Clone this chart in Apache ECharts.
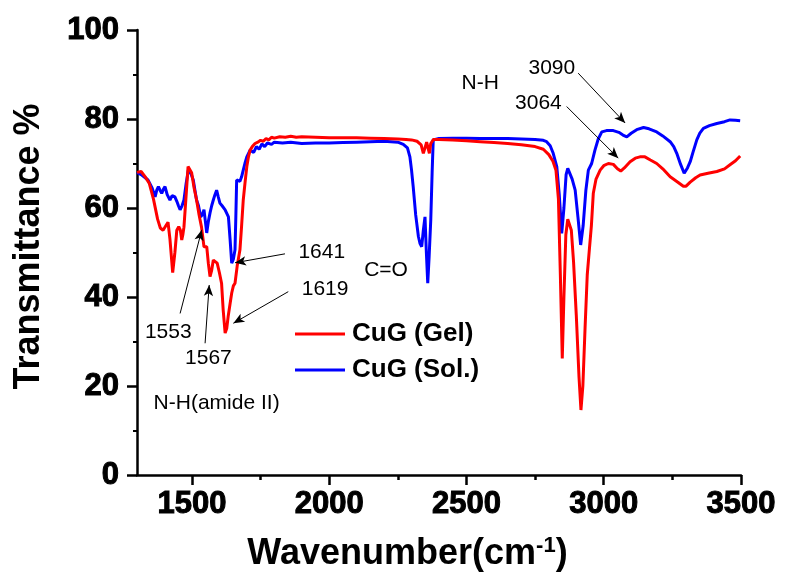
<!DOCTYPE html>
<html>
<head>
<meta charset="utf-8">
<script src="https://cdn.jsdelivr.net/npm/echarts@6/dist/echarts.min.js"></script>
<style>
  html, body { margin: 0; padding: 0; background: #fff; }
  #chart { width: 785px; height: 579px; }
</style>
</head>
<body>
<div id="chart"></div>
<script>
// FTIR spectra of the CuG gel and sol
const gelWavenumber = [1300,1315,1330,1345,1360,1375,1385,1395,1405,1413,1420,1430,1438,1445,1452,1458,1463,1467,1471,1478,1486,1492,1499,1508,1517,1526,1535,1544,1549,1554,1560,1566,1572,1578,1585,1592,1600,1608,1614,1621,1627,1632,1639,1645,1651,1657,1665,1675,1681,1687,1694,1700,1706,1712,1720,1730,1740,1750,1760,1770,1780,1790,1800,1820,1840,1860,1880,1900,1950,2000,2050,2100,2150,2200,2250,2280,2300,2320,2335,2343,2349,2355,2360,2365,2370,2380,2400,2450,2500,2550,2600,2650,2700,2750,2780,2800,2815,2826,2835,2842,2849,2855,2862,2869,2875,2882,2890,2900,2910,2917,2924,2932,2940,2948,2955,2962,2972,2987,3000,3017,3035,3050,3062,3075,3096,3115,3132,3150,3170,3193,3215,3242,3270,3290,3300,3315,3335,3351,3380,3412,3440,3460,3480,3497];
const gelTransmittance = [68,68.2,67,65.5,62,57.5,55.5,55,56,56.8,53,45.5,50,55,55.8,55,52.8,54,55.7,62,69.3,69,67.9,64.5,61.8,58.5,55.7,51.3,51.5,51.3,47.5,44.6,46,48.3,48.7,47.6,45.5,43.1,37,31.9,33,35.6,38.5,40.9,42.5,43.1,47,50.6,56,61.8,66,69.3,71.5,73,73.8,74.5,74.8,75.2,75.0,75.6,75.3,75.9,75.7,76.0,75.9,76.1,75.9,76.0,75.9,75.8,75.8,75.8,75.7,75.6,75.5,75.4,75.3,75.0,74.2,72.3,73.5,74.8,73.5,72.3,74.5,75.4,75.4,75.3,75.1,74.9,74.7,74.5,74.2,73.8,73.2,72,70.5,68.5,62,45,26.2,40,54,57.5,57.7,55,48,36,22,14.6,20,33,45,50.9,56,63.3,66.5,68.5,69.5,70.0,69.8,68.8,68.3,69.0,70.4,71.2,71.5,71.5,70.8,70.0,68.8,67.0,65.8,64.9,64.9,65.8,66.8,67.4,67.8,68.2,68.8,69.7,70.6,71.7];

const solWavenumber = [1300,1315,1330,1340,1347,1355,1366,1372,1378,1384,1390,1396,1402,1410,1420,1428,1438,1445,1451,1457,1464,1471,1479,1487,1495,1505,1511,1517,1524,1532,1538,1544,1549,1554,1560,1566,1572,1578,1584,1590,1596,1602,1610,1621,1627,1633,1639,1645,1651,1657,1660,1663,1670,1675,1681,1687,1693,1700,1712,1725,1735,1745,1755,1765,1775,1790,1800,1830,1860,1900,1950,2000,2050,2100,2150,2200,2250,2270,2285,2294,2300,2306,2315,2325,2331,2337,2343,2349,2354,2359,2364,2370,2375,2379,2400,2450,2500,2550,2600,2650,2700,2750,2780,2792,2805,2816,2829,2838,2847,2855,2863,2869,2875,2885,2896,2906,2916,2925,2935,2944,2956,2968,2980,2993,3010,3035,3055,3070,3084,3100,3120,3145,3165,3193,3215,3242,3255,3266,3280,3293,3305,3315,3325,3339,3350,3363,3385,3412,3440,3460,3480,3497];
const solTransmittance = [68,67.5,66.8,66.3,66.3,64.5,62.5,64,64.8,64,63.3,64.2,64.8,63,61.8,62.8,62.5,61.5,60.5,59.6,60.5,61.8,65.5,68.5,68,66.3,64,61.8,60.5,58.0,58.5,59.6,57,54.4,57,58.9,60.5,61.8,63,64.0,62.5,61.1,60.5,59.6,58.8,58.0,53,47.6,48.5,50.6,58,66.3,66.5,66,67.0,68.5,70.0,71.5,73,72.5,73.8,73.2,74.4,73.8,74.6,74.3,74.8,74.6,74.8,74.5,74.6,74.6,74.7,74.8,74.9,75.0,74.8,74.3,73.5,71.5,68.5,64.8,58.5,53.6,52,51.3,55,58.0,50,43.1,49,57.3,68,75.3,75.6,75.7,75.7,75.6,75.6,75.6,75.5,75.4,75.2,74.9,74,72.3,69.3,63,54.3,60,67.5,68.9,68.9,66.5,64.0,58,51.7,56,64,68.5,70.0,73.0,75.5,77.1,77.4,77.4,77.0,76.4,76.0,76.8,77.6,78.1,77.8,77.1,76.2,74.9,73.8,72.3,69.8,67.8,69,70.4,72.5,75.3,76.8,77.9,78.5,79.0,79.4,79.8,79.7,79.6];

const seriesNames = ['CuG (Gel)', 'CuG (Sol.)'];
const xMajorTicks = [1500, 2000, 2500, 3000, 3500];
const xMinorTicks = [1750, 2250, 2750, 3250];

// Peak assignments: text and its anchor [wavenumber, %T]
const peakLabels = [
  { text: '3090', at: [2811, 91.4] },
  { text: '3064', at: [2762, 83.5] },
  { text: 'N-H', at: [2550, 88.0] },
  { text: 'C=O', at: [2207, 46.1] },
  { text: '1641', at: [1973, 50.0] },
  { text: '1619', at: [1985, 41.7] },
  { text: '1553', at: [1414, 32.2] },
  { text: '1567', at: [1560, 26.2] },
  { text: 'N-H(amide II)', at: [1590, 16.1] }
];
// Pointer arrows: from label to band
const peakArrows = [
  [[2907, 90.3], [3078, 79.1]],
  [[2865, 82.8], [3053, 71.2]],
  [[1839, 49.7], [1657, 47.7]],
  [[1851, 41.2], [1651, 34.1]],
  [[1457, 36.3], [1536, 55.1]],
  [[1548, 29.6], [1563, 42.7]]
];

const FONT = '"Liberation Sans", Arial, Helvetica, sans-serif';
const zip = (xs, ys) => xs.map((x, i) => [x, ys[i]]);

const chart = echarts.init(document.getElementById('chart'), null, { renderer: 'canvas' });

const tickLabelStyle = {
  color: '#000', fontFamily: FONT, fontWeight: 'bold', fontSize: 31,
  textBorderColor: '#000', textBorderWidth: 1,
  formatter: v => String(v)
};

chart.setOption({
  animation: false,
  backgroundColor: '#fff',
  grid: { left: 137, right: 44, top: 30, bottom: 104, containLabel: false, outerBoundsMode: 'none' },
  legend: {
    orient: 'vertical',
    left: 295, top: 321,
    padding: 0,
    icon: 'rect',
    itemWidth: 50, itemHeight: 3, itemGap: 10,
    data: seriesNames,
    textStyle: { color: '#000', fontFamily: FONT, fontWeight: 'bold', fontSize: 26, padding: [0, 0, 0, 2] }
  },
  xAxis: [{
    type: 'value', min: 1300, max: 3500,
    name: 'Wavenumber(cm{sup|-1})',
    nameLocation: 'middle', nameGap: 60,
    nameTextStyle: {
      color: '#000', fontFamily: FONT, fontWeight: 'bold', fontSize: 36,
      padding: [0, 63, 0, 0],
      rich: { sup: { fontFamily: FONT, fontWeight: 'bold', fontSize: 22, padding: [0, 0, 16, 0], color: '#000' } }
    },
    axisLine: { show: true, onZero: false, lineStyle: { color: '#000', width: 2.5 } },
    axisTick: { show: true, inside: false, length: 10, lineStyle: { color: '#000', width: 2.5 }, customValues: xMajorTicks },
    axisLabel: Object.assign({ margin: 14, customValues: xMajorTicks }, tickLabelStyle),
    splitLine: { show: false }
  }, {
    type: 'value', min: 1300, max: 3500, position: 'bottom',
    axisLine: { show: false },
    axisTick: { show: true, inside: false, length: 5, lineStyle: { color: '#000', width: 2.5 }, customValues: xMinorTicks },
    axisLabel: { show: false },
    splitLine: { show: false }
  }],
  yAxis: {
    type: 'value', min: 0, max: 100, interval: 20,
    name: 'Transmittance %',
    nameLocation: 'middle', nameGap: 90, nameRotate: 90,
    nameTextStyle: {
      color: '#000', fontFamily: FONT, fontWeight: 'bold', fontSize: 36,
      padding: [0, 0, 0, 12]
    },
    axisLine: { show: true, lineStyle: { color: '#000', width: 2.5 } },
    axisTick: { show: true, inside: false, length: 10, lineStyle: { color: '#000', width: 2.5 } },
    minorTick: { show: true, splitNumber: 2, length: 4, lineStyle: { color: '#000', width: 2 } },
    axisLabel: Object.assign({ margin: 18 }, tickLabelStyle),
    splitLine: { show: false }
  },
  series: [{
    name: seriesNames[0],
    type: 'line',
    data: zip(gelWavenumber, gelTransmittance),
    showSymbol: false, symbol: 'none',
    lineStyle: { color: '#ff0000', width: 3 },
    itemStyle: { color: '#ff0000' },
    z: 3
  }, {
    name: seriesNames[1],
    type: 'line',
    data: zip(solWavenumber, solTransmittance),
    showSymbol: false, symbol: 'none',
    lineStyle: { color: '#0000ff', width: 3 },
    itemStyle: { color: '#0000ff' },
    z: 2
  }, {
    // annotations: peak numbers and pointer arrows
    name: 'annotations',
    type: 'line',
    data: [],
    silent: true,
    markPoint: {
      symbol: 'rect', symbolSize: 1,
      itemStyle: { color: 'rgba(0,0,0,0)' },
      label: {
        show: true, position: 'inside',
        color: '#000', fontFamily: FONT, fontSize: 21,
        formatter: p => p.name
      },
      data: peakLabels.map(l => ({ name: l.text, coord: l.at }))
    },
    markLine: {
      silent: true,
      symbol: ['none', 'arrow'],
      symbolSize: [7, 11],
      lineStyle: { color: '#000', width: 1, type: 'solid' },
      label: { show: false },
      data: peakArrows.map(a => [{ coord: a[0] }, { coord: a[1] }])
    },
    z: 5
  }]
});
</script>
</body>
</html>
